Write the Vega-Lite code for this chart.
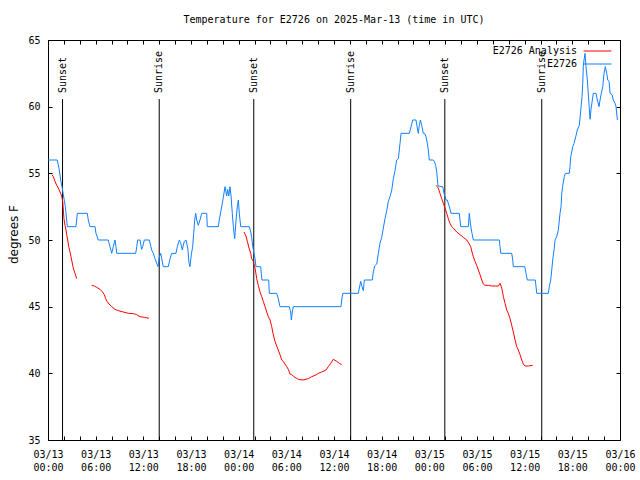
{
  "$schema": "https://vega.github.io/schema/vega-lite/v6.json",
  "width": 572,
  "height": 400,
  "autosize": {"type": "none"},
  "padding": {"left": 48, "top": 40, "right": 20, "bottom": 40},
  "background": "white",
  "title": {"text": "Temperature for E2726 on 2025-Mar-13 (time in UTC)", "font": "DejaVu Sans Mono", "fontSize": 10, "fontWeight": "normal", "color": "black", "anchor": "middle", "offset": 10},
  "config": {"view": {"stroke": null}},
  "datasets": {
    "temps": [
      {"series": "E2726", "segment": "obs", "hour": 0, "temp": 56},
      {"series": "E2726", "segment": "obs", "hour": 1.17, "temp": 56},
      {"series": "E2726", "segment": "obs", "hour": 1.42, "temp": 55.25},
      {"series": "E2726", "segment": "obs", "hour": 1.60, "temp": 54.5},
      {"series": "E2726", "segment": "obs", "hour": 1.76, "temp": 54},
      {"series": "E2726", "segment": "obs", "hour": 1.93, "temp": 53.4},
      {"series": "E2726", "segment": "obs", "hour": 2.18, "temp": 52.5},
      {"series": "E2726", "segment": "obs", "hour": 2.35, "temp": 51.5},
      {"series": "E2726", "segment": "obs", "hour": 2.43, "temp": 51},
      {"series": "E2726", "segment": "obs", "hour": 3.52, "temp": 51},
      {"series": "E2726", "segment": "obs", "hour": 3.69, "temp": 52},
      {"series": "E2726", "segment": "obs", "hour": 4.95, "temp": 52},
      {"series": "E2726", "segment": "obs", "hour": 5.07, "temp": 51.5},
      {"series": "E2726", "segment": "obs", "hour": 5.29, "temp": 51},
      {"series": "E2726", "segment": "obs", "hour": 5.92, "temp": 51},
      {"series": "E2726", "segment": "obs", "hour": 6.04, "temp": 50.5},
      {"series": "E2726", "segment": "obs", "hour": 6.33, "temp": 50},
      {"series": "E2726", "segment": "obs", "hour": 7.59, "temp": 50},
      {"series": "E2726", "segment": "obs", "hour": 7.80, "temp": 49.5},
      {"series": "E2726", "segment": "obs", "hour": 8.02, "temp": 49},
      {"series": "E2726", "segment": "obs", "hour": 8.22, "temp": 49.5},
      {"series": "E2726", "segment": "obs", "hour": 8.43, "temp": 50},
      {"series": "E2726", "segment": "obs", "hour": 8.56, "temp": 49.5},
      {"series": "E2726", "segment": "obs", "hour": 8.65, "temp": 49},
      {"series": "E2726", "segment": "obs", "hour": 11.04, "temp": 49},
      {"series": "E2726", "segment": "obs", "hour": 11.17, "temp": 49.5},
      {"series": "E2726", "segment": "obs", "hour": 11.29, "temp": 50},
      {"series": "E2726", "segment": "obs", "hour": 11.58, "temp": 50},
      {"series": "E2726", "segment": "obs", "hour": 11.79, "temp": 49.3},
      {"series": "E2726", "segment": "obs", "hour": 11.92, "temp": 49.5},
      {"series": "E2726", "segment": "obs", "hour": 12.12, "temp": 50},
      {"series": "E2726", "segment": "obs", "hour": 12.75, "temp": 50},
      {"series": "E2726", "segment": "obs", "hour": 13.05, "temp": 49.25},
      {"series": "E2726", "segment": "obs", "hour": 13.26, "temp": 49},
      {"series": "E2726", "segment": "obs", "hour": 13.47, "temp": 48.6},
      {"series": "E2726", "segment": "obs", "hour": 13.85, "temp": 48},
      {"series": "E2726", "segment": "obs", "hour": 14.01, "temp": 48.7},
      {"series": "E2726", "segment": "obs", "hour": 14.19, "temp": 49},
      {"series": "E2726", "segment": "obs", "hour": 14.35, "temp": 48.5},
      {"series": "E2726", "segment": "obs", "hour": 14.51, "temp": 48},
      {"series": "E2726", "segment": "obs", "hour": 15.14, "temp": 48},
      {"series": "E2726", "segment": "obs", "hour": 15.36, "temp": 48.6},
      {"series": "E2726", "segment": "obs", "hour": 15.57, "temp": 49},
      {"series": "E2726", "segment": "obs", "hour": 16.11, "temp": 49},
      {"series": "E2726", "segment": "obs", "hour": 16.28, "temp": 49.5},
      {"series": "E2726", "segment": "obs", "hour": 16.53, "temp": 50},
      {"series": "E2726", "segment": "obs", "hour": 16.70, "temp": 49.8},
      {"series": "E2726", "segment": "obs", "hour": 16.91, "temp": 49.25},
      {"series": "E2726", "segment": "obs", "hour": 17.03, "temp": 49.6},
      {"series": "E2726", "segment": "obs", "hour": 17.16, "temp": 49.9},
      {"series": "E2726", "segment": "obs", "hour": 17.37, "temp": 50},
      {"series": "E2726", "segment": "obs", "hour": 17.59, "temp": 49.4},
      {"series": "E2726", "segment": "obs", "hour": 17.75, "temp": 48.3},
      {"series": "E2726", "segment": "obs", "hour": 17.87, "temp": 48},
      {"series": "E2726", "segment": "obs", "hour": 18.04, "temp": 48.9},
      {"series": "E2726", "segment": "obs", "hour": 18.21, "temp": 49.5},
      {"series": "E2726", "segment": "obs", "hour": 18.34, "temp": 50.5},
      {"series": "E2726", "segment": "obs", "hour": 18.47, "temp": 51.5},
      {"series": "E2726", "segment": "obs", "hour": 18.59, "temp": 52},
      {"series": "E2726", "segment": "obs", "hour": 18.72, "temp": 51.5},
      {"series": "E2726", "segment": "obs", "hour": 18.92, "temp": 51.1},
      {"series": "E2726", "segment": "obs", "hour": 19.13, "temp": 51.5},
      {"series": "E2726", "segment": "obs", "hour": 19.35, "temp": 52},
      {"series": "E2726", "segment": "obs", "hour": 19.98, "temp": 52},
      {"series": "E2726", "segment": "obs", "hour": 20.05, "temp": 51},
      {"series": "E2726", "segment": "obs", "hour": 21.44, "temp": 51},
      {"series": "E2726", "segment": "obs", "hour": 21.56, "temp": 51.5},
      {"series": "E2726", "segment": "obs", "hour": 21.74, "temp": 52.1},
      {"series": "E2726", "segment": "obs", "hour": 21.94, "temp": 52.75},
      {"series": "E2726", "segment": "obs", "hour": 22.07, "temp": 53.2},
      {"series": "E2726", "segment": "obs", "hour": 22.28, "temp": 54},
      {"series": "E2726", "segment": "obs", "hour": 22.49, "temp": 53.3},
      {"series": "E2726", "segment": "obs", "hour": 22.62, "temp": 53.8},
      {"series": "E2726", "segment": "obs", "hour": 22.75, "temp": 53.3},
      {"series": "E2726", "segment": "obs", "hour": 22.91, "temp": 54},
      {"series": "E2726", "segment": "obs", "hour": 23.04, "temp": 53.3},
      {"series": "E2726", "segment": "obs", "hour": 23.20, "temp": 52},
      {"series": "E2726", "segment": "obs", "hour": 23.33, "temp": 51},
      {"series": "E2726", "segment": "obs", "hour": 23.50, "temp": 50.1},
      {"series": "E2726", "segment": "obs", "hour": 23.67, "temp": 51.5},
      {"series": "E2726", "segment": "obs", "hour": 23.83, "temp": 52.5},
      {"series": "E2726", "segment": "obs", "hour": 23.96, "temp": 53},
      {"series": "E2726", "segment": "obs", "hour": 24.08, "temp": 52},
      {"series": "E2726", "segment": "obs", "hour": 24.26, "temp": 51},
      {"series": "E2726", "segment": "obs", "hour": 25.34, "temp": 51},
      {"series": "E2726", "segment": "obs", "hour": 25.52, "temp": 50.6},
      {"series": "E2726", "segment": "obs", "hour": 25.64, "temp": 50.2},
      {"series": "E2726", "segment": "obs", "hour": 25.77, "temp": 49.5},
      {"series": "E2726", "segment": "obs", "hour": 25.93, "temp": 49},
      {"series": "E2726", "segment": "obs", "hour": 26.06, "temp": 48.6},
      {"series": "E2726", "segment": "obs", "hour": 26.18, "temp": 48},
      {"series": "E2726", "segment": "obs", "hour": 26.77, "temp": 48},
      {"series": "E2726", "segment": "obs", "hour": 26.85, "temp": 47.5},
      {"series": "E2726", "segment": "obs", "hour": 26.94, "temp": 47},
      {"series": "E2726", "segment": "obs", "hour": 27.78, "temp": 47},
      {"series": "E2726", "segment": "obs", "hour": 27.86, "temp": 46},
      {"series": "E2726", "segment": "obs", "hour": 28.79, "temp": 46},
      {"series": "E2726", "segment": "obs", "hour": 28.99, "temp": 45.6},
      {"series": "E2726", "segment": "obs", "hour": 29.20, "temp": 45},
      {"series": "E2726", "segment": "obs", "hour": 30.37, "temp": 45},
      {"series": "E2726", "segment": "obs", "hour": 30.55, "temp": 44.6},
      {"series": "E2726", "segment": "obs", "hour": 30.63, "temp": 44},
      {"series": "E2726", "segment": "obs", "hour": 30.75, "temp": 44.6},
      {"series": "E2726", "segment": "obs", "hour": 30.88, "temp": 45},
      {"series": "E2726", "segment": "obs", "hour": 36.88, "temp": 45},
      {"series": "E2726", "segment": "obs", "hour": 36.97, "temp": 45.5},
      {"series": "E2726", "segment": "obs", "hour": 37.10, "temp": 46},
      {"series": "E2726", "segment": "obs", "hour": 39.06, "temp": 46},
      {"series": "E2726", "segment": "obs", "hour": 39.19, "temp": 46.4},
      {"series": "E2726", "segment": "obs", "hour": 39.36, "temp": 46.9},
      {"series": "E2726", "segment": "obs", "hour": 39.53, "temp": 46.5},
      {"series": "E2726", "segment": "obs", "hour": 39.69, "temp": 46.2},
      {"series": "E2726", "segment": "obs", "hour": 39.82, "temp": 47},
      {"series": "E2726", "segment": "obs", "hour": 40.82, "temp": 47},
      {"series": "E2726", "segment": "obs", "hour": 40.95, "temp": 47.6},
      {"series": "E2726", "segment": "obs", "hour": 41.12, "temp": 48.05},
      {"series": "E2726", "segment": "obs", "hour": 41.38, "temp": 48.2},
      {"series": "E2726", "segment": "obs", "hour": 41.58, "temp": 49},
      {"series": "E2726", "segment": "obs", "hour": 41.79, "temp": 49.75},
      {"series": "E2726", "segment": "obs", "hour": 42.01, "temp": 50.2},
      {"series": "E2726", "segment": "obs", "hour": 42.21, "temp": 50.9},
      {"series": "E2726", "segment": "obs", "hour": 42.42, "temp": 51.6},
      {"series": "E2726", "segment": "obs", "hour": 42.64, "temp": 52.2},
      {"series": "E2726", "segment": "obs", "hour": 42.84, "temp": 52.9},
      {"series": "E2726", "segment": "obs", "hour": 43.05, "temp": 53.25},
      {"series": "E2726", "segment": "obs", "hour": 43.27, "temp": 53.75},
      {"series": "E2726", "segment": "obs", "hour": 43.47, "temp": 54.6},
      {"series": "E2726", "segment": "obs", "hour": 43.68, "temp": 55.2},
      {"series": "E2726", "segment": "obs", "hour": 43.89, "temp": 56},
      {"series": "E2726", "segment": "obs", "hour": 44.10, "temp": 56.1},
      {"series": "E2726", "segment": "obs", "hour": 44.31, "temp": 57.25},
      {"series": "E2726", "segment": "obs", "hour": 44.44, "temp": 58},
      {"series": "E2726", "segment": "obs", "hour": 45.48, "temp": 58},
      {"series": "E2726", "segment": "obs", "hour": 45.66, "temp": 58.4},
      {"series": "E2726", "segment": "obs", "hour": 45.91, "temp": 59},
      {"series": "E2726", "segment": "obs", "hour": 46.32, "temp": 59},
      {"series": "E2726", "segment": "obs", "hour": 46.49, "temp": 58.4},
      {"series": "E2726", "segment": "obs", "hour": 46.61, "temp": 58},
      {"series": "E2726", "segment": "obs", "hour": 46.74, "temp": 58.6},
      {"series": "E2726", "segment": "obs", "hour": 46.87, "temp": 59},
      {"series": "E2726", "segment": "obs", "hour": 47.04, "temp": 58.6},
      {"series": "E2726", "segment": "obs", "hour": 47.24, "temp": 58},
      {"series": "E2726", "segment": "obs", "hour": 47.42, "temp": 58},
      {"series": "E2726", "segment": "obs", "hour": 47.58, "temp": 57.75},
      {"series": "E2726", "segment": "obs", "hour": 47.75, "temp": 57.25},
      {"series": "E2726", "segment": "obs", "hour": 47.87, "temp": 56.75},
      {"series": "E2726", "segment": "obs", "hour": 48.00, "temp": 56},
      {"series": "E2726", "segment": "obs", "hour": 48.50, "temp": 56},
      {"series": "E2726", "segment": "obs", "hour": 48.63, "temp": 55.9},
      {"series": "E2726", "segment": "obs", "hour": 48.80, "temp": 55.6},
      {"series": "E2726", "segment": "obs", "hour": 48.93, "temp": 55.1},
      {"series": "E2726", "segment": "obs", "hour": 49.01, "temp": 54.6},
      {"series": "E2726", "segment": "obs", "hour": 49.09, "temp": 54.05},
      {"series": "E2726", "segment": "obs", "hour": 49.69, "temp": 54},
      {"series": "E2726", "segment": "obs", "hour": 49.85, "temp": 53.5},
      {"series": "E2726", "segment": "obs", "hour": 50.10, "temp": 53},
      {"series": "E2726", "segment": "obs", "hour": 50.26, "temp": 53},
      {"series": "E2726", "segment": "obs", "hour": 50.52, "temp": 52.5},
      {"series": "E2726", "segment": "obs", "hour": 50.73, "temp": 52},
      {"series": "E2726", "segment": "obs", "hour": 51.77, "temp": 52},
      {"series": "E2726", "segment": "obs", "hour": 51.86, "temp": 51.5},
      {"series": "E2726", "segment": "obs", "hour": 51.95, "temp": 51},
      {"series": "E2726", "segment": "obs", "hour": 52.91, "temp": 51},
      {"series": "E2726", "segment": "obs", "hour": 53.03, "temp": 52},
      {"series": "E2726", "segment": "obs", "hour": 53.12, "temp": 51.5},
      {"series": "E2726", "segment": "obs", "hour": 53.25, "temp": 50.9},
      {"series": "E2726", "segment": "obs", "hour": 53.37, "temp": 50.5},
      {"series": "E2726", "segment": "obs", "hour": 53.54, "temp": 50},
      {"series": "E2726", "segment": "obs", "hour": 56.81, "temp": 50},
      {"series": "E2726", "segment": "obs", "hour": 56.90, "temp": 49.5},
      {"series": "E2726", "segment": "obs", "hour": 56.99, "temp": 49},
      {"series": "E2726", "segment": "obs", "hour": 58.37, "temp": 49},
      {"series": "E2726", "segment": "obs", "hour": 58.50, "temp": 48.5},
      {"series": "E2726", "segment": "obs", "hour": 58.57, "temp": 48},
      {"series": "E2726", "segment": "obs", "hour": 60.01, "temp": 48},
      {"series": "E2726", "segment": "obs", "hour": 60.17, "temp": 47.5},
      {"series": "E2726", "segment": "obs", "hour": 60.33, "temp": 47},
      {"series": "E2726", "segment": "obs", "hour": 61.34, "temp": 47},
      {"series": "E2726", "segment": "obs", "hour": 61.43, "temp": 46.5},
      {"series": "E2726", "segment": "obs", "hour": 61.52, "temp": 46},
      {"series": "E2726", "segment": "obs", "hour": 62.98, "temp": 46},
      {"series": "E2726", "segment": "obs", "hour": 63.10, "temp": 46.5},
      {"series": "E2726", "segment": "obs", "hour": 63.28, "temp": 47},
      {"series": "E2726", "segment": "obs", "hour": 63.41, "temp": 47.75},
      {"series": "E2726", "segment": "obs", "hour": 63.53, "temp": 48.5},
      {"series": "E2726", "segment": "obs", "hour": 63.70, "temp": 49.25},
      {"series": "E2726", "segment": "obs", "hour": 63.82, "temp": 50},
      {"series": "E2726", "segment": "obs", "hour": 64.03, "temp": 50.25},
      {"series": "E2726", "segment": "obs", "hour": 64.24, "temp": 50.75},
      {"series": "E2726", "segment": "obs", "hour": 64.45, "temp": 52},
      {"series": "E2726", "segment": "obs", "hour": 64.58, "temp": 52.5},
      {"series": "E2726", "segment": "obs", "hour": 64.67, "temp": 53.5},
      {"series": "E2726", "segment": "obs", "hour": 64.79, "temp": 54.1},
      {"series": "E2726", "segment": "obs", "hour": 64.99, "temp": 54.75},
      {"series": "E2726", "segment": "obs", "hour": 65.12, "temp": 55},
      {"series": "E2726", "segment": "obs", "hour": 65.62, "temp": 55},
      {"series": "E2726", "segment": "obs", "hour": 65.71, "temp": 55.5},
      {"series": "E2726", "segment": "obs", "hour": 65.80, "temp": 56.25},
      {"series": "E2726", "segment": "obs", "hour": 65.92, "temp": 56.6},
      {"series": "E2726", "segment": "obs", "hour": 66.05, "temp": 57},
      {"series": "E2726", "segment": "obs", "hour": 66.21, "temp": 57.25},
      {"series": "E2726", "segment": "obs", "hour": 66.43, "temp": 57.75},
      {"series": "E2726", "segment": "obs", "hour": 66.63, "temp": 58.25},
      {"series": "E2726", "segment": "obs", "hour": 66.88, "temp": 58.6},
      {"series": "E2726", "segment": "obs", "hour": 67.06, "temp": 59.75},
      {"series": "E2726", "segment": "obs", "hour": 67.22, "temp": 60.75},
      {"series": "E2726", "segment": "obs", "hour": 67.31, "temp": 61.75},
      {"series": "E2726", "segment": "obs", "hour": 67.38, "temp": 63},
      {"series": "E2726", "segment": "obs", "hour": 67.47, "temp": 63.5},
      {"series": "E2726", "segment": "obs", "hour": 67.60, "temp": 64},
      {"series": "E2726", "segment": "obs", "hour": 67.72, "temp": 63},
      {"series": "E2726", "segment": "obs", "hour": 67.89, "temp": 62},
      {"series": "E2726", "segment": "obs", "hour": 68.06, "temp": 60.5},
      {"series": "E2726", "segment": "obs", "hour": 68.23, "temp": 59.05},
      {"series": "E2726", "segment": "obs", "hour": 68.35, "temp": 59.8},
      {"series": "E2726", "segment": "obs", "hour": 68.52, "temp": 60.5},
      {"series": "E2726", "segment": "obs", "hour": 68.64, "temp": 61},
      {"series": "E2726", "segment": "obs", "hour": 68.98, "temp": 61},
      {"series": "E2726", "segment": "obs", "hour": 69.15, "temp": 60.5},
      {"series": "E2726", "segment": "obs", "hour": 69.36, "temp": 60},
      {"series": "E2726", "segment": "obs", "hour": 69.49, "temp": 60.5},
      {"series": "E2726", "segment": "obs", "hour": 69.61, "temp": 60.9},
      {"series": "E2726", "segment": "obs", "hour": 69.83, "temp": 61.5},
      {"series": "E2726", "segment": "obs", "hour": 69.99, "temp": 62.5},
      {"series": "E2726", "segment": "obs", "hour": 70.15, "temp": 63},
      {"series": "E2726", "segment": "obs", "hour": 70.33, "temp": 62.5},
      {"series": "E2726", "segment": "obs", "hour": 70.46, "temp": 62},
      {"series": "E2726", "segment": "obs", "hour": 70.62, "temp": 61.9},
      {"series": "E2726", "segment": "obs", "hour": 70.75, "temp": 61},
      {"series": "E2726", "segment": "obs", "hour": 71.00, "temp": 60.9},
      {"series": "E2726", "segment": "obs", "hour": 71.16, "temp": 60.5},
      {"series": "E2726", "segment": "obs", "hour": 71.38, "temp": 60.25},
      {"series": "E2726", "segment": "obs", "hour": 71.50, "temp": 60},
      {"series": "E2726", "segment": "obs", "hour": 71.67, "temp": 59},

      {"series": "E2726 Analysis", "segment": "a1", "hour": 0.50, "temp": 54.9},
      {"series": "E2726 Analysis", "segment": "a1", "hour": 0.67, "temp": 54.75},
      {"series": "E2726 Analysis", "segment": "a1", "hour": 0.88, "temp": 54.4},
      {"series": "E2726 Analysis", "segment": "a1", "hour": 1.10, "temp": 54.1},
      {"series": "E2726 Analysis", "segment": "a1", "hour": 1.30, "temp": 53.9},
      {"series": "E2726 Analysis", "segment": "a1", "hour": 1.51, "temp": 53.6},
      {"series": "E2726 Analysis", "segment": "a1", "hour": 1.72, "temp": 53.3},
      {"series": "E2726 Analysis", "segment": "a1", "hour": 1.85, "temp": 52.9},
      {"series": "E2726 Analysis", "segment": "a1", "hour": 1.93, "temp": 52.25},
      {"series": "E2726 Analysis", "segment": "a1", "hour": 2.01, "temp": 51.6},
      {"series": "E2726 Analysis", "segment": "a1", "hour": 2.14, "temp": 51.1},
      {"series": "E2726 Analysis", "segment": "a1", "hour": 2.27, "temp": 50.75},
      {"series": "E2726 Analysis", "segment": "a1", "hour": 2.35, "temp": 50.4},
      {"series": "E2726 Analysis", "segment": "a1", "hour": 2.48, "temp": 50.0},
      {"series": "E2726 Analysis", "segment": "a1", "hour": 2.61, "temp": 49.5},
      {"series": "E2726 Analysis", "segment": "a1", "hour": 2.77, "temp": 49.1},
      {"series": "E2726 Analysis", "segment": "a1", "hour": 2.98, "temp": 48.5},
      {"series": "E2726 Analysis", "segment": "a1", "hour": 3.18, "temp": 47.9},
      {"series": "E2726 Analysis", "segment": "a1", "hour": 3.40, "temp": 47.5},
      {"series": "E2726 Analysis", "segment": "a1", "hour": 3.61, "temp": 47.1},

      {"series": "E2726 Analysis", "segment": "a2", "hour": 5.50, "temp": 46.6},
      {"series": "E2726 Analysis", "segment": "a2", "hour": 5.83, "temp": 46.55},
      {"series": "E2726 Analysis", "segment": "a2", "hour": 6.13, "temp": 46.45},
      {"series": "E2726 Analysis", "segment": "a2", "hour": 6.55, "temp": 46.3},
      {"series": "E2726 Analysis", "segment": "a2", "hour": 6.84, "temp": 46.12},
      {"series": "E2726 Analysis", "segment": "a2", "hour": 7.09, "temp": 45.9},
      {"series": "E2726 Analysis", "segment": "a2", "hour": 7.26, "temp": 45.6},
      {"series": "E2726 Analysis", "segment": "a2", "hour": 7.43, "temp": 45.4},
      {"series": "E2726 Analysis", "segment": "a2", "hour": 7.68, "temp": 45.2},
      {"series": "E2726 Analysis", "segment": "a2", "hour": 8.02, "temp": 45.0},
      {"series": "E2726 Analysis", "segment": "a2", "hour": 8.43, "temp": 44.8},
      {"series": "E2726 Analysis", "segment": "a2", "hour": 8.85, "temp": 44.7},
      {"series": "E2726 Analysis", "segment": "a2", "hour": 9.48, "temp": 44.6},
      {"series": "E2726 Analysis", "segment": "a2", "hour": 10.11, "temp": 44.5},
      {"series": "E2726 Analysis", "segment": "a2", "hour": 10.74, "temp": 44.48},
      {"series": "E2726 Analysis", "segment": "a2", "hour": 11.17, "temp": 44.4},
      {"series": "E2726 Analysis", "segment": "a2", "hour": 11.58, "temp": 44.25},
      {"series": "E2726 Analysis", "segment": "a2", "hour": 12.12, "temp": 44.2},
      {"series": "E2726 Analysis", "segment": "a2", "hour": 12.71, "temp": 44.13},

      {"series": "E2726 Analysis", "segment": "a3", "hour": 24.67, "temp": 50.6},
      {"series": "E2726 Analysis", "segment": "a3", "hour": 24.92, "temp": 50.3},
      {"series": "E2726 Analysis", "segment": "a3", "hour": 25.09, "temp": 49.9},
      {"series": "E2726 Analysis", "segment": "a3", "hour": 25.30, "temp": 49.4},
      {"series": "E2726 Analysis", "segment": "a3", "hour": 25.52, "temp": 49.0},
      {"series": "E2726 Analysis", "segment": "a3", "hour": 25.64, "temp": 48.6},
      {"series": "E2726 Analysis", "segment": "a3", "hour": 25.84, "temp": 48.4},
      {"series": "E2726 Analysis", "segment": "a3", "hour": 26.06, "temp": 47.9},
      {"series": "E2726 Analysis", "segment": "a3", "hour": 26.27, "temp": 47.1},
      {"series": "E2726 Analysis", "segment": "a3", "hour": 26.47, "temp": 46.6},
      {"series": "E2726 Analysis", "segment": "a3", "hour": 26.69, "temp": 46.1},
      {"series": "E2726 Analysis", "segment": "a3", "hour": 26.90, "temp": 45.75},
      {"series": "E2726 Analysis", "segment": "a3", "hour": 27.10, "temp": 45.4},
      {"series": "E2726 Analysis", "segment": "a3", "hour": 27.32, "temp": 45.0},
      {"series": "E2726 Analysis", "segment": "a3", "hour": 27.53, "temp": 44.6},
      {"series": "E2726 Analysis", "segment": "a3", "hour": 27.73, "temp": 44.25},
      {"series": "E2726 Analysis", "segment": "a3", "hour": 27.95, "temp": 44.0},
      {"series": "E2726 Analysis", "segment": "a3", "hour": 28.16, "temp": 43.5},
      {"series": "E2726 Analysis", "segment": "a3", "hour": 28.36, "temp": 42.9},
      {"series": "E2726 Analysis", "segment": "a3", "hour": 28.57, "temp": 42.4},
      {"series": "E2726 Analysis", "segment": "a3", "hour": 28.79, "temp": 42.05},
      {"series": "E2726 Analysis", "segment": "a3", "hour": 28.99, "temp": 41.75},
      {"series": "E2726 Analysis", "segment": "a3", "hour": 29.20, "temp": 41.4},
      {"series": "E2726 Analysis", "segment": "a3", "hour": 29.42, "temp": 41.0},
      {"series": "E2726 Analysis", "segment": "a3", "hour": 29.62, "temp": 40.9},
      {"series": "E2726 Analysis", "segment": "a3", "hour": 29.83, "temp": 40.7},
      {"series": "E2726 Analysis", "segment": "a3", "hour": 30.05, "temp": 40.5},
      {"series": "E2726 Analysis", "segment": "a3", "hour": 30.25, "temp": 40.3},
      {"series": "E2726 Analysis", "segment": "a3", "hour": 30.46, "temp": 39.95},
      {"series": "E2726 Analysis", "segment": "a3", "hour": 30.68, "temp": 39.9},
      {"series": "E2726 Analysis", "segment": "a3", "hour": 30.88, "temp": 39.8},
      {"series": "E2726 Analysis", "segment": "a3", "hour": 31.09, "temp": 39.7},
      {"series": "E2726 Analysis", "segment": "a3", "hour": 31.51, "temp": 39.55},
      {"series": "E2726 Analysis", "segment": "a3", "hour": 32.10, "temp": 39.5},
      {"series": "E2726 Analysis", "segment": "a3", "hour": 32.77, "temp": 39.6},
      {"series": "E2726 Analysis", "segment": "a3", "hour": 33.20, "temp": 39.75},
      {"series": "E2726 Analysis", "segment": "a3", "hour": 33.61, "temp": 39.85},
      {"series": "E2726 Analysis", "segment": "a3", "hour": 34.03, "temp": 40.0},
      {"series": "E2726 Analysis", "segment": "a3", "hour": 34.45, "temp": 40.1},
      {"series": "E2726 Analysis", "segment": "a3", "hour": 35.00, "temp": 40.25},
      {"series": "E2726 Analysis", "segment": "a3", "hour": 35.28, "temp": 40.5},
      {"series": "E2726 Analysis", "segment": "a3", "hour": 35.59, "temp": 40.75},
      {"series": "E2726 Analysis", "segment": "a3", "hour": 35.91, "temp": 41.05},
      {"series": "E2726 Analysis", "segment": "a3", "hour": 36.34, "temp": 40.9},
      {"series": "E2726 Analysis", "segment": "a3", "hour": 36.67, "temp": 40.75},
      {"series": "E2726 Analysis", "segment": "a3", "hour": 36.97, "temp": 40.65},

      {"series": "E2726 Analysis", "segment": "a4", "hour": 48.84, "temp": 54.1},
      {"series": "E2726 Analysis", "segment": "a4", "hour": 49.13, "temp": 53.9},
      {"series": "E2726 Analysis", "segment": "a4", "hour": 49.34, "temp": 53.5},
      {"series": "E2726 Analysis", "segment": "a4", "hour": 49.56, "temp": 53.1},
      {"series": "E2726 Analysis", "segment": "a4", "hour": 49.76, "temp": 52.75},
      {"series": "E2726 Analysis", "segment": "a4", "hour": 49.97, "temp": 52.4},
      {"series": "E2726 Analysis", "segment": "a4", "hour": 50.19, "temp": 52.0},
      {"series": "E2726 Analysis", "segment": "a4", "hour": 50.39, "temp": 51.6},
      {"series": "E2726 Analysis", "segment": "a4", "hour": 50.60, "temp": 51.25},
      {"series": "E2726 Analysis", "segment": "a4", "hour": 50.82, "temp": 51.0},
      {"series": "E2726 Analysis", "segment": "a4", "hour": 51.02, "temp": 50.9},
      {"series": "E2726 Analysis", "segment": "a4", "hour": 51.23, "temp": 50.75},
      {"series": "E2726 Analysis", "segment": "a4", "hour": 51.45, "temp": 50.6},
      {"series": "E2726 Analysis", "segment": "a4", "hour": 51.86, "temp": 50.4},
      {"series": "E2726 Analysis", "segment": "a4", "hour": 52.28, "temp": 50.2},
      {"series": "E2726 Analysis", "segment": "a4", "hour": 52.71, "temp": 50.0},
      {"series": "E2726 Analysis", "segment": "a4", "hour": 53.03, "temp": 49.7},
      {"series": "E2726 Analysis", "segment": "a4", "hour": 53.21, "temp": 49.5},
      {"series": "E2726 Analysis", "segment": "a4", "hour": 53.37, "temp": 49.1},
      {"series": "E2726 Analysis", "segment": "a4", "hour": 53.54, "temp": 48.75},
      {"series": "E2726 Analysis", "segment": "a4", "hour": 53.75, "temp": 48.4},
      {"series": "E2726 Analysis", "segment": "a4", "hour": 53.96, "temp": 48.1},
      {"series": "E2726 Analysis", "segment": "a4", "hour": 54.17, "temp": 47.75},
      {"series": "E2726 Analysis", "segment": "a4", "hour": 54.38, "temp": 47.4},
      {"series": "E2726 Analysis", "segment": "a4", "hour": 54.60, "temp": 47.0},
      {"series": "E2726 Analysis", "segment": "a4", "hour": 54.80, "temp": 46.7},
      {"series": "E2726 Analysis", "segment": "a4", "hour": 55.01, "temp": 46.6},
      {"series": "E2726 Analysis", "segment": "a4", "hour": 55.43, "temp": 46.6},
      {"series": "E2726 Analysis", "segment": "a4", "hour": 55.85, "temp": 46.55},
      {"series": "E2726 Analysis", "segment": "a4", "hour": 56.27, "temp": 46.55},
      {"series": "E2726 Analysis", "segment": "a4", "hour": 56.69, "temp": 46.55},
      {"series": "E2726 Analysis", "segment": "a4", "hour": 56.90, "temp": 46.75},
      {"series": "E2726 Analysis", "segment": "a4", "hour": 57.03, "temp": 46.55},
      {"series": "E2726 Analysis", "segment": "a4", "hour": 57.15, "temp": 46.3},
      {"series": "E2726 Analysis", "segment": "a4", "hour": 57.32, "temp": 45.75},
      {"series": "E2726 Analysis", "segment": "a4", "hour": 57.53, "temp": 45.25},
      {"series": "E2726 Analysis", "segment": "a4", "hour": 57.74, "temp": 44.75},
      {"series": "E2726 Analysis", "segment": "a4", "hour": 57.94, "temp": 44.5},
      {"series": "E2726 Analysis", "segment": "a4", "hour": 58.16, "temp": 44.1},
      {"series": "E2726 Analysis", "segment": "a4", "hour": 58.37, "temp": 43.6},
      {"series": "E2726 Analysis", "segment": "a4", "hour": 58.57, "temp": 43.1},
      {"series": "E2726 Analysis", "segment": "a4", "hour": 58.79, "temp": 42.5},
      {"series": "E2726 Analysis", "segment": "a4", "hour": 59.00, "temp": 42.0},
      {"series": "E2726 Analysis", "segment": "a4", "hour": 59.20, "temp": 41.75},
      {"series": "E2726 Analysis", "segment": "a4", "hour": 59.42, "temp": 41.4},
      {"series": "E2726 Analysis", "segment": "a4", "hour": 59.63, "temp": 41.0},
      {"series": "E2726 Analysis", "segment": "a4", "hour": 59.83, "temp": 40.7},
      {"series": "E2726 Analysis", "segment": "a4", "hour": 60.05, "temp": 40.55},
      {"series": "E2726 Analysis", "segment": "a4", "hour": 60.46, "temp": 40.55},
      {"series": "E2726 Analysis", "segment": "a4", "hour": 61.02, "temp": 40.6}
    ],
    "events": [
      {"event": "Sunset", "hour": 1.83},
      {"event": "Sunrise", "hour": 14.0},
      {"event": "Sunset", "hour": 25.9},
      {"event": "Sunrise", "hour": 38.1},
      {"event": "Sunset", "hour": 49.95},
      {"event": "Sunrise", "hour": 62.15}
    ]
  },
  "resolve": {"axis": {"x": "independent", "y": "independent"}},
  "layer": [
    {
      "data": {"name": "events"},
      "mark": {"type": "rule", "color": "black", "strokeWidth": 1},
      "encoding": {
        "x": {"field": "hour", "type": "quantitative", "scale": {"domain": [0, 72], "nice": false, "zero": false}, "axis": null},
        "y": {"datum": 60.57, "type": "quantitative", "axis": null},
        "y2": {"datum": 35}
      }
    },
    {
      "data": {"name": "events"},
      "mark": {"type": "text", "angle": 270, "align": "left", "baseline": "middle", "font": "DejaVu Sans Mono", "fontSize": 10, "color": "black"},
      "encoding": {
        "x": {"field": "hour", "type": "quantitative", "axis": null},
        "y": {"datum": 61.02, "type": "quantitative", "axis": null},
        "text": {"field": "event"}
      }
    },
    {
      "data": {"name": "temps"},
      "mark": {"type": "line", "strokeWidth": 1, "opacity": 0},
      "encoding": {
        "x": {"field": "hour", "type": "quantitative", "axis": {"orient": "top", "values": [0,2,4,6,8,10,12,14,16,18,20,22,24,26,28,30,32,34,36,38,40,42,44,46,48,50,52,54,56,58,60,62,64,66,68,70,72], "labels": false, "title": null, "grid": false, "tickSize": -4, "tickColor": "black", "domainColor": "black"}},
        "y": {"field": "temp", "type": "quantitative", "axis": {"orient": "right", "values": [35,40,45,50,55,60,65], "labels": false, "title": null, "grid": false, "tickSize": -4, "tickColor": "black", "domainColor": "black"}},
        "detail": {"field": "segment"}
      }
    },
    {
      "data": {"name": "temps"},
      "mark": {"type": "line", "strokeWidth": 1},
      "encoding": {
        "x": {"field": "hour", "type": "quantitative", "axis": {"orient": "bottom", "values": [0,2,4,6,8,10,12,14,16,18,20,22,24,26,28,30,32,34,36,38,40,42,44,46,48,50,52,54,56,58,60,62,64,66,68,70,72], "title": null, "grid": false, "tickSize": -4, "tickColor": "black", "domainColor": "black", "labelFont": "DejaVu Sans Mono", "labelFontSize": 10, "labelColor": "black", "labelPadding": 13, "labelLineHeight": 13, "labelBaseline": "top", "labelOverlap": false, "labelFlush": false, "labelBound": false, "labelExpr": "datum.value % 6 == 0 ? ['03/' + (13 + floor(datum.value / 24)), (datum.value % 24 < 10 ? '0' : '') + (datum.value % 24) + ':00'] : ''"}},
        "y": {"field": "temp", "type": "quantitative", "scale": {"domain": [35, 65], "nice": false, "zero": false}, "axis": {"orient": "left", "values": [35,40,45,50,55,60,65], "title": "degrees F", "titleFont": "DejaVu Sans", "titleFontSize": 12, "titleFontWeight": "normal", "titleColor": "black", "titleX": -35, "titleY": 194, "titleAngle": 270, "titleAlign": "center", "titleBaseline": "middle", "grid": false, "tickSize": -4, "tickColor": "black", "domainColor": "black", "labelFont": "DejaVu Sans Mono", "labelFontSize": 10, "labelColor": "black", "labelPadding": 12, "labelFlush": false, "labelOverlap": false}},
        "color": {"field": "series", "type": "nominal", "scale": {"domain": ["E2726 Analysis", "E2726"], "range": ["#ff0000", "#1080ff"]}, "legend": {"orient": "none", "legendX": 542.5, "legendY": 4, "title": null, "symbolType": "M-2.15,0H2.15", "symbolSize": 169, "symbolStrokeWidth": 1, "symbolFillColor": "transparent", "rowPadding": 1, "padding": 0, "labelFont": "DejaVu Sans Mono", "labelFontSize": 10, "labelColor": "black", "labelAlign": "right", "labelOffset": -27.5}},
        "detail": {"field": "segment"}
      }
    }
  ]
}
